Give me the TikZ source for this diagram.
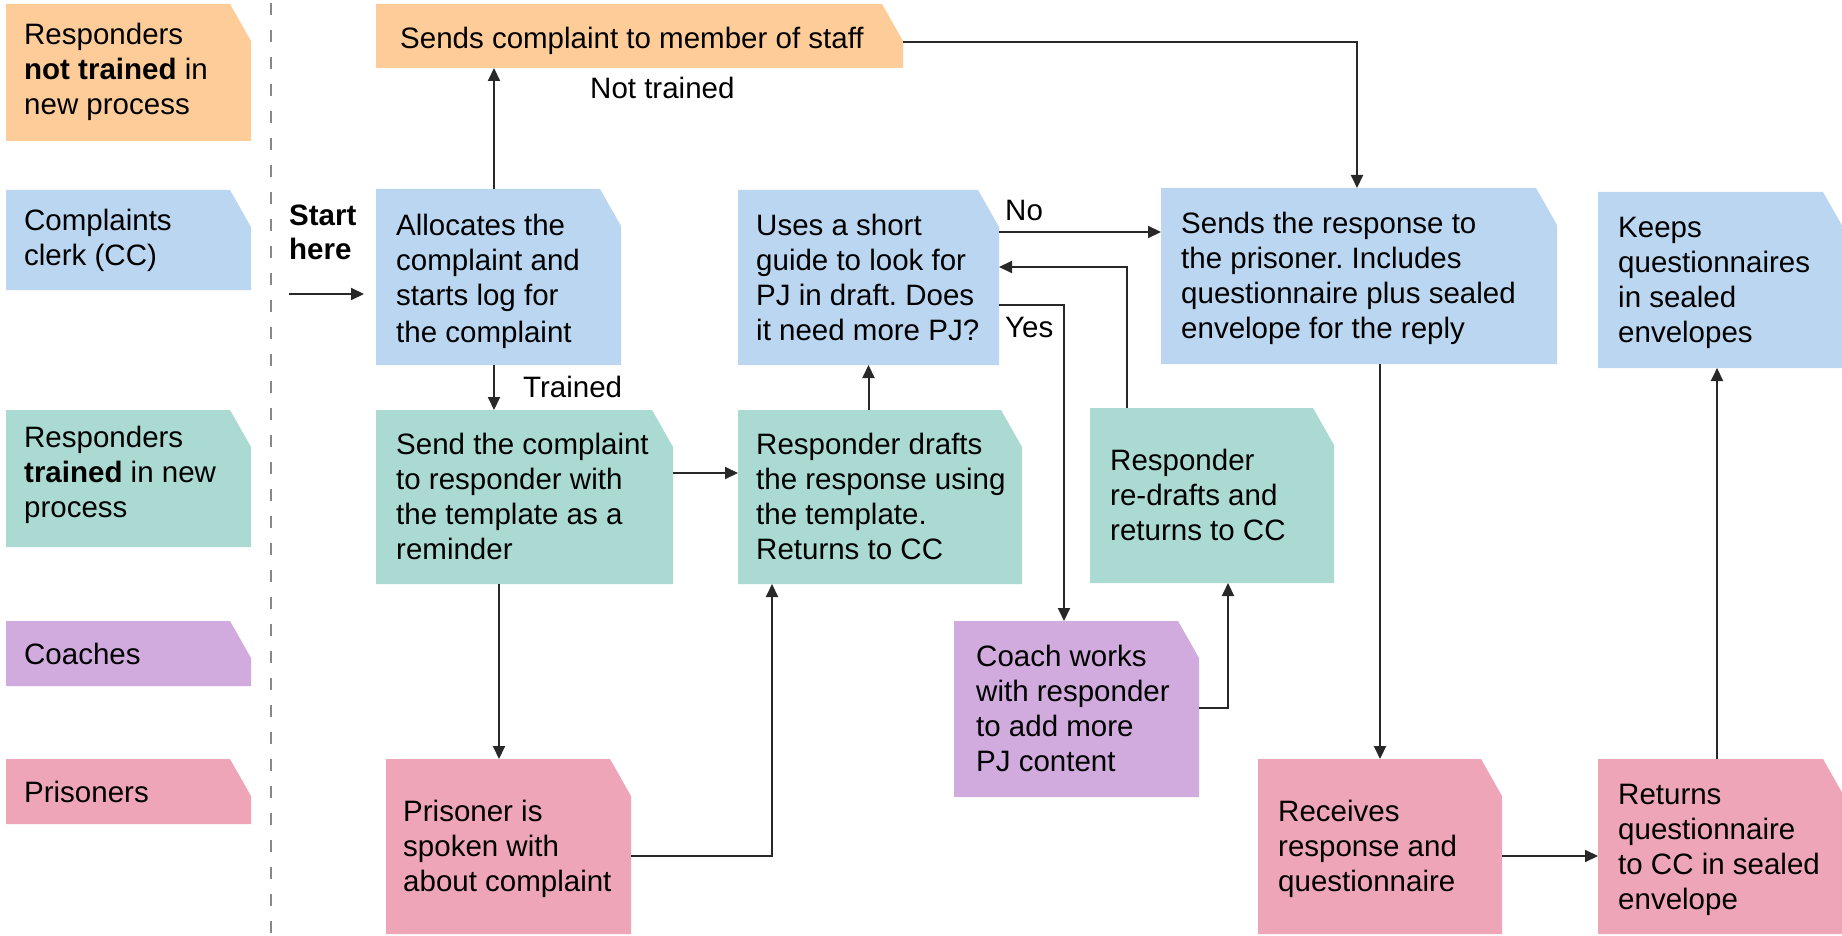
\documentclass[tikz,border=0pt]{standalone}
\usepackage{fontspec}
\setmainfont{Liberation Sans}
\frenchspacing
\usetikzlibrary{arrows.meta,fit}
\definecolor{corange}{RGB}{254,204,152}
\definecolor{cblue}{RGB}{186,214,240}
\definecolor{cgreen}{RGB}{170,218,210}
\definecolor{cpurple}{RGB}{209,170,222}
\definecolor{cpink}{RGB}{238,165,183}
\definecolor{cline}{RGB}{40,40,40}
\definecolor{cdash}{RGB}{136,136,136}
\tikzset{
  boxfit/.style={inner sep=0pt, outer sep=0pt},
  txt/.style={inner sep=0pt, align=left, anchor=west, text=black,
    font=\fontsize{29.5}{35}\selectfont\frenchspacing},
  lbl/.style={inner sep=0pt, anchor=base west, text=black,
    font=\fontsize{29.5}{35}\selectfont},
  arr/.style={draw=cline, line width=2pt, -{Triangle[length=13pt,width=12pt]}},
  lane/.style={draw=cdash, line width=1.5pt, dash pattern=on 12pt off 15pt},
}
\newcommand\bstr{\rule[-7.5pt]{0pt}{35pt}}
% #1 padding, #2 name, #3 x1, #4 y1, #5 x2, #6 y2, #7 colour, #8 text
\newcommand\cutbox[8][20]{%
  \fill[#7] (#3,#4) -- (#5-21,#4) -- (#5,#4+37) -- (#5,#6) -- (#3,#6) -- cycle;
  \coordinate (#2-nw) at (#3,#4);
  \coordinate (#2-se) at (#5,#6);
  \node[boxfit, fit=(#2-nw)(#2-se)] (#2) {};
  \node[txt] (#2-t) at ([xshift=#1pt]#2.west) {\bstr#8\bstr};
}
% lane label: #1 yshift, #2 name, #3 x1, #4 y1, #5 x2, #6 y2, #7 colour, #8 text
\newcommand\lanebox[8][0]{%
  \fill[#7] (#3,#4) -- (#5-21,#4) -- (#5,#4+37) -- (#5,#6) -- (#3,#6) -- cycle;
  \coordinate (#2-nw) at (#3,#4);
  \coordinate (#2-se) at (#5,#6);
  \node[boxfit, fit=(#2-nw)(#2-se)] (#2) {};
  \node[txt] (#2-t) at ([xshift=18pt,yshift=#1pt]#2.west) {#8};
}
\begin{document}
\begin{tikzpicture}[x=1pt,y=-1pt]
\useasboundingbox (0,0) rectangle (1842,936);
\clip (0,0) rectangle (1842,936);
\fill[white] (0,0) rectangle (1842,936);

% lane separator
\draw[lane] (271,3) coordinate (ls1) -- (271,936) coordinate (ls2);

% lane labels
\lanebox[1]{laneA}{6}{4}{251}{141}{corange}{Responders\\\textbf{not trained} in\\new process}
\lanebox{laneB}{6}{190}{251}{290}{cblue}{Complaints\\clerk (CC)}
\lanebox[4]{laneC}{6}{410}{251}{547}{cgreen}{Responders\\\textbf{trained} in new\\process}
\lanebox{laneD}{6}{621}{251}{686}{cpurple}{Coaches}
\lanebox{laneE}{6}{759}{251}{824}{cpink}{Prisoners}

% process boxes
\cutbox[24]{staff}{376}{4}{903}{68}{corange}{\raisebox{-3pt}{Sends complaint to member of staff}}
\cutbox{alloc}{376}{189}{621}{365}{cblue}{\raisebox{-2pt}{Allocates the}\\\raisebox{-2pt}{complaint and}\\\raisebox{-2pt}{starts log for}\\\raisebox{-2pt}{the complaint}}
\cutbox[18]{guide}{738}{190}{999}{365}{cblue}{Uses a short\\guide to look for\\PJ in draft. Does\\it need more PJ?}
\cutbox{resp}{1161}{188}{1557}{364}{cblue}{Sends the response to\\the prisoner. Includes\\questionnaire plus sealed\\envelope for the reply}
\cutbox{keeps}{1598}{192}{1844}{368}{cblue}{Keeps\\questionnaires\\in sealed\\envelopes}
\cutbox{send}{376}{410}{673}{584}{cgreen}{Send the complaint\\to responder with\\the template as a\\reminder}
\cutbox[18]{drafts}{738}{410}{1022}{584}{cgreen}{Responder drafts\\the response using\\the template.\\Returns to CC}
\cutbox{redraft}{1090}{408}{1334}{583}{cgreen}{Responder\\re-drafts and\\returns to CC}
\cutbox[22]{coach}{954}{621}{1199}{797}{cpurple}{Coach works\\with responder\\to add more\\PJ content}
\cutbox[17]{pris}{386}{759}{631}{934}{cpink}{Prisoner is\\spoken with\\about complaint}
\cutbox{recv}{1258}{759}{1502}{934}{cpink}{Receives\\response and\\questionnaire}
\cutbox{ret}{1598}{759}{1844}{934}{cpink}{Returns\\questionnaire\\to CC in sealed\\envelope}

% start
\node[lbl, align=left, anchor=north west, font=\fontsize{29.5}{34}\selectfont\bfseries] (start) at (289,205) {Start\\here};
\coordinate (s0) at (289,294);
\draw[arr, shorten >=12pt] (s0) -- (alloc.west |- s0);

% labels
\node[lbl] (lnt) at (590,99) {Not trained};
\node[lbl] (ltr) at (523,397) {Trained};
\node[lbl] (lno) at (1005,221) {No};
\node[lbl] (lyes) at (1005,337) {Yes};

% connectors
\draw[arr] (494,0 |- alloc.north) -- (494,0 |- staff.south);
\draw[arr] (staff.east |- 0,42) -| (1357,0 |- resp.north);
\draw[arr] (494,0 |- alloc.south) -- (494,0 |- send.north);
\draw[arr] (send.east |- 0,473) -- (drafts.west |- 0,473);
\draw[arr] (499,0 |- send.south) -- (499,0 |- pris.north);
\draw[arr] (pris.east |- 0,856) -| (772,0 |- drafts.south);
\draw[arr] (guide.south |- drafts.north) -- (guide.south);
\draw[arr] (guide.east |- 0,232) -- (resp.west |- 0,232);
\draw[arr] (guide.east |- 0,305) -| (1064,0 |- coach.north);
\draw[arr] (1127,0 |- redraft.north) |- (guide.east |- 0,267);
\draw[arr] (coach.east |- 0,708) -| (1228,0 |- redraft.south);
\draw[arr] (1380,0 |- resp.south) -- (1380,0 |- recv.north);
\draw[arr] (recv.east |- 0,856) -- (ret.west |- 0,856);
\draw[arr] (1717,0 |- ret.north) -- (1717,0 |- keeps.south);
\end{tikzpicture}
\end{document}
